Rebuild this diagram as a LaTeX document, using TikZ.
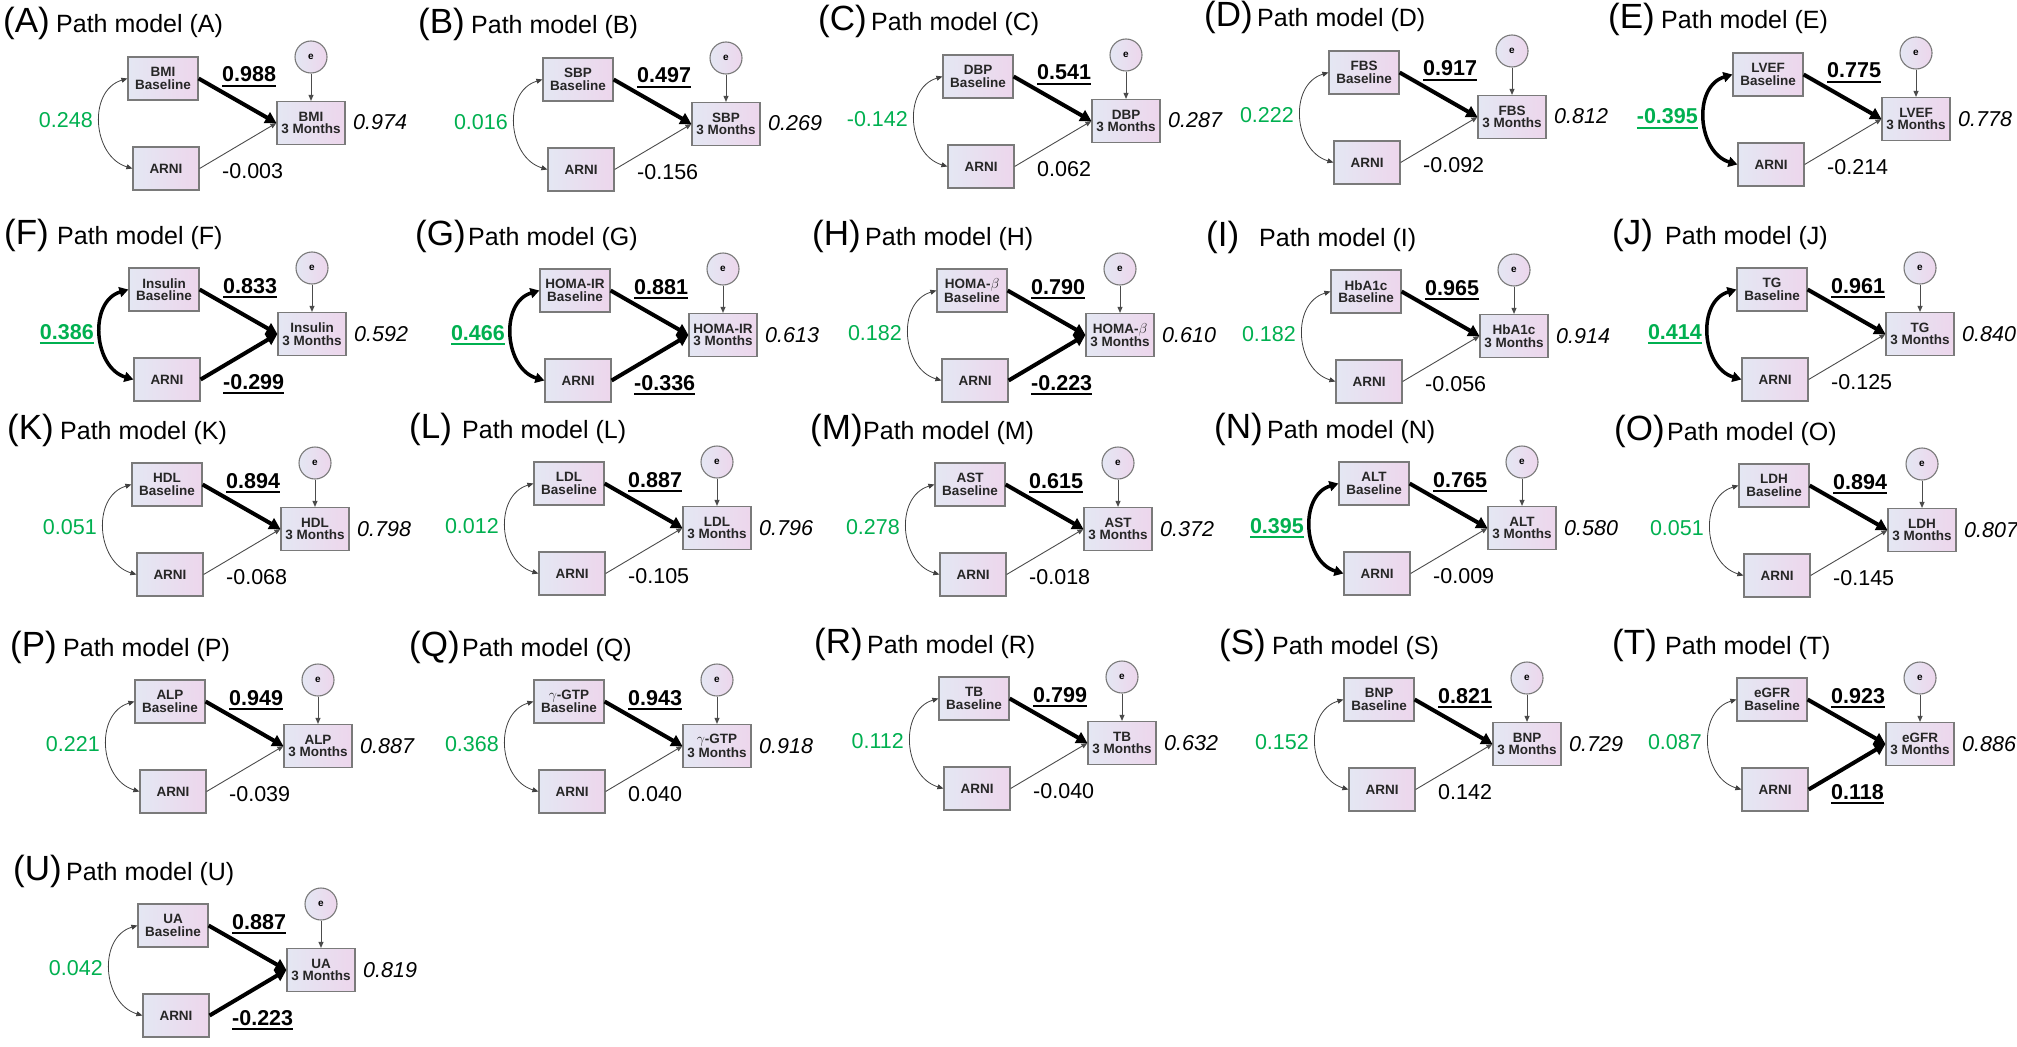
\documentclass[tikz,border=0pt]{standalone}
\usepackage{fontspec}
\setmainfont{Liberation Sans}
\usepackage{tikz}
\usetikzlibrary{arrows.meta, positioning}

\definecolor{boxleft}{HTML}{E4E7F3}
\definecolor{boxright}{HTML}{EDD6EC}
\definecolor{boxedge}{HTML}{7A7A7A}
\definecolor{covgreen}{HTML}{00B050}

\newsavebox{\sigbox}
\newcommand{\sigval}[1]{\sbox{\sigbox}{\bfseries #1}\vtop{\copy\sigbox\kern2.5pt\hrule height 1.8pt width \wd\sigbox}}

\begin{document}
\begin{tikzpicture}[x=1pt, y=-1pt,
    varbox/.style={rectangle, draw=boxedge, line width=1.2pt, left color=boxleft, right color=boxright, minimum width=70pt, minimum height=43pt, inner sep=1pt, align=center, text=black!85, font=\fontsize{13.5}{12.5}\selectfont\bfseries},
    errcirc/.style={circle, draw=boxedge, line width=1.1pt, left color=boxleft, right color=boxright, minimum size=32pt, inner sep=0pt, font=\fontsize{10}{10}\selectfont\bfseries},
    panellabel/.style={anchor=base west, inner sep=0pt, font=\fontsize{35}{38}\selectfont},
    headline/.style={anchor=base west, inner sep=0pt, font=\fontsize{25}{28}\selectfont},
    estim/.style={inner sep=0pt, font=\fontsize{21.5}{24}\selectfont},
    athin/.style={-{Triangle[length=6pt,width=5pt]}, line width=0.9pt, black!70},
    abold/.style={-{Triangle[length=11pt,width=12pt]}, line width=4pt, black},
    cthin/.style={<->, >={Triangle[length=6pt,width=5pt]}, line width=0.8pt, black!75},
    cbold/.style={<->, >={Triangle[length=9pt,width=10pt]}, line width=3.5pt, black}
]

\fill[white] (0,0) rectangle (2017,1046);
\useasboundingbox (0,0) rectangle (2017,1046);

% Panels: origin / letter / variable / covariance / style / path estimates / R^2
\foreach \bx/\by/\id/\var/\cov/\covstyle/\bone/\btwo/\arnistyle/\rsq in {
    128/57/A/BMI/0.248/cthin/0.988/-0.003/athin/0.974,
    543/58/B/SBP/0.016/cthin/0.497/-0.156/athin/0.269,
    943/55/C/DBP/-0.142/cthin/0.541/0.062/athin/0.287,
    1329/51/D/FBS/0.222/cthin/0.917/-0.092/athin/0.812,
    1733/53/E/LVEF/{\sigval{-0.395}}/cbold/0.775/-0.214/athin/0.778,
    129/268/F/Insulin/{\sigval{0.386}}/cbold/0.833/{\sigval{-0.299}}/abold/0.592,
    540/269/G/HOMA-IR/{\sigval{0.466}}/cbold/0.881/{\sigval{-0.336}}/abold/0.613,
    937/269/H/{HOMA-$\beta$}/0.182/cthin/0.790/{\sigval{-0.223}}/abold/0.610,
    1331/270/I/HbA1c/0.182/cthin/0.965/-0.056/athin/0.914,
    1737/268/J/TG/{\sigval{0.414}}/cbold/0.961/-0.125/athin/0.840,
    132/463/K/HDL/0.051/cthin/0.894/-0.068/athin/0.798,
    534/462/L/LDL/0.012/cthin/0.887/-0.105/athin/0.796,
    935/463/M/AST/0.278/cthin/0.615/-0.018/athin/0.372,
    1339/462/N/ALT/{\sigval{0.395}}/cbold/0.765/-0.009/athin/0.580,
    1739/464/O/LDH/0.051/cthin/0.894/-0.145/athin/0.807,
    135/680/P/ALP/0.221/cthin/0.949/-0.039/athin/0.887,
    534/680/Q/{$\gamma$-GTP}/0.368/cthin/0.943/0.040/athin/0.918,
    939/677/R/TB/0.112/cthin/0.799/-0.040/athin/0.632,
    1344/678/S/BNP/0.152/cthin/0.821/0.142/athin/0.729,
    1737/678/T/eGFR/0.087/cthin/0.923/{\sigval{0.118}}/abold/0.886,
    138/904/U/UA/0.042/cthin/0.887/{\sigval{-0.223}}/abold/0.819}
{
\begin{scope}[shift={(\bx,\by)}]
    % Title
    \node[panellabel] (tag\id) at (-125,-24) {(\id)};
    \node[headline] (head\id) at (-72,-24) {Path model (\id)};

    % Variables
    \node[varbox] (base\id) at (35,21.5) {\var\\Baseline};
    \node[varbox, minimum width=66pt] (arni\id) at (38,111.5) {ARNI};
    \node[varbox, minimum width=68pt] (mon\id) at (183,66) {\var\\3 Months};
    \node[errcirc] (err\id) at (183,0) {e};

    % Paths
    \draw[abold] (base\id.east) -- (mon\id.west);
    \draw[\arnistyle] (arni\id.east) -- (mon\id.west);
    \draw[athin] (err\id) -- (mon\id);
    \draw[\covstyle] (base\id.west) .. controls +(-40,12) and +(-40,-12) .. (arni\id.west);

    % Estimates
    \node[estim, anchor=base east, text=covgreen] (cov\id) at (-35,71) {\cov};
    \node[estim, anchor=base west] (bone\id) at (94,25) {\sigval{\bone}};
    \node[estim, anchor=base west] (btwo\id) at (94,121) {\btwo};
    \node[estim, anchor=base west, font=\fontsize{21.5}{24}\selectfont\itshape] (rsq\id) at (225,73) {\rsq};
\end{scope}
}

\end{tikzpicture}
\end{document}
